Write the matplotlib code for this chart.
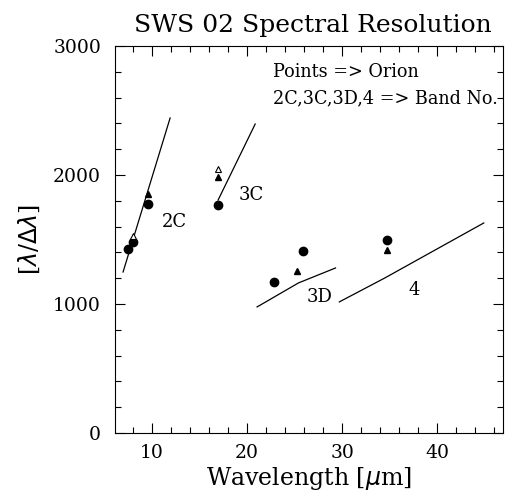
import matplotlib.pyplot as plt
from matplotlib.ticker import MultipleLocator

# Orion measurements
circ_x = [7.5, 8.0, 9.6, 16.95, 22.8, 25.9, 34.7]
circ_y = [1426, 1481, 1775, 1767, 1171, 1411, 1496]
tri_x = [9.6, 16.95, 25.3, 34.7]
tri_y = [1853, 1984, 1256, 1419]
otri_x = [8.0, 16.95]
otri_y = [1527, 2046]

# band resolution curves
band_2c_x = [6.95, 11.9]
band_2c_y = [1248, 2442]
band_3c_x = [16.95, 20.85]
band_3c_y = [1806, 2395]
band_3d_x = [21.05, 25.4, 29.3]
band_3d_y = [977, 1163, 1279]
band_4_x = [29.7, 34.5, 44.9]
band_4_y = [1016, 1202, 1628]

band_names = ['2C', '3C', '3D', '4']
label_x = [12.4, 20.4, 27.6, 37.6]
label_y = [1636, 1845, 1054, 1109]

plt.rcParams['font.family'] = 'DejaVu Serif'

fig = plt.figure(figsize=(5.12, 4.92), dpi=100)
ax = fig.add_axes([0.2246, 0.12, 0.7574, 0.7865])

for bx, by in [(band_2c_x, band_2c_y), (band_3c_x, band_3c_y),
               (band_3d_x, band_3d_y), (band_4_x, band_4_y)]:
    ax.plot(bx, by, color='black', lw=0.9)

ax.plot(circ_x, circ_y, 'o', color='black', ms=6)
ax.plot(tri_x, tri_y, '^', color='black', ms=4.5)
ax.plot(otri_x, otri_y, '^', mfc='white', mec='black', mew=0.8, ms=4.5)

for name, lx, ly in zip(band_names, label_x, label_y):
    ax.text(lx, ly, name, fontsize=13, ha='center', va='center')

ax.text(0.408, 0.92, 'Points => Orion', transform=ax.transAxes, fontsize=12.7)
ax.text(0.408, 0.853, '2C,3C,3D,4 => Band No.', transform=ax.transAxes, fontsize=12.7)

ax.set_xlim(6.1, 46.9)
ax.set_ylim(0, 3000)
ax.xaxis.set_major_locator(MultipleLocator(10))
ax.xaxis.set_minor_locator(MultipleLocator(2))
ax.yaxis.set_major_locator(MultipleLocator(1000))
ax.yaxis.set_minor_locator(MultipleLocator(200))
ax.tick_params(which='both', direction='in', top=True, right=True, width=0.8)
ax.tick_params(which='major', length=7, labelsize=13.5)
ax.tick_params(axis='y', which='major', pad=10)
ax.tick_params(axis='x', which='major', pad=8)
ax.tick_params(which='minor', length=4)

ax.set_xlabel(r'Wavelength [$\mu$m]', fontsize=17, labelpad=2)
ax.set_ylabel(r'[$\lambda$/$\Delta\lambda$]', fontsize=17, labelpad=8)
ax.set_title('SWS 02 Spectral Resolution', fontsize=18, pad=10, x=0.51)

fig.savefig('out.png', dpi=100)
